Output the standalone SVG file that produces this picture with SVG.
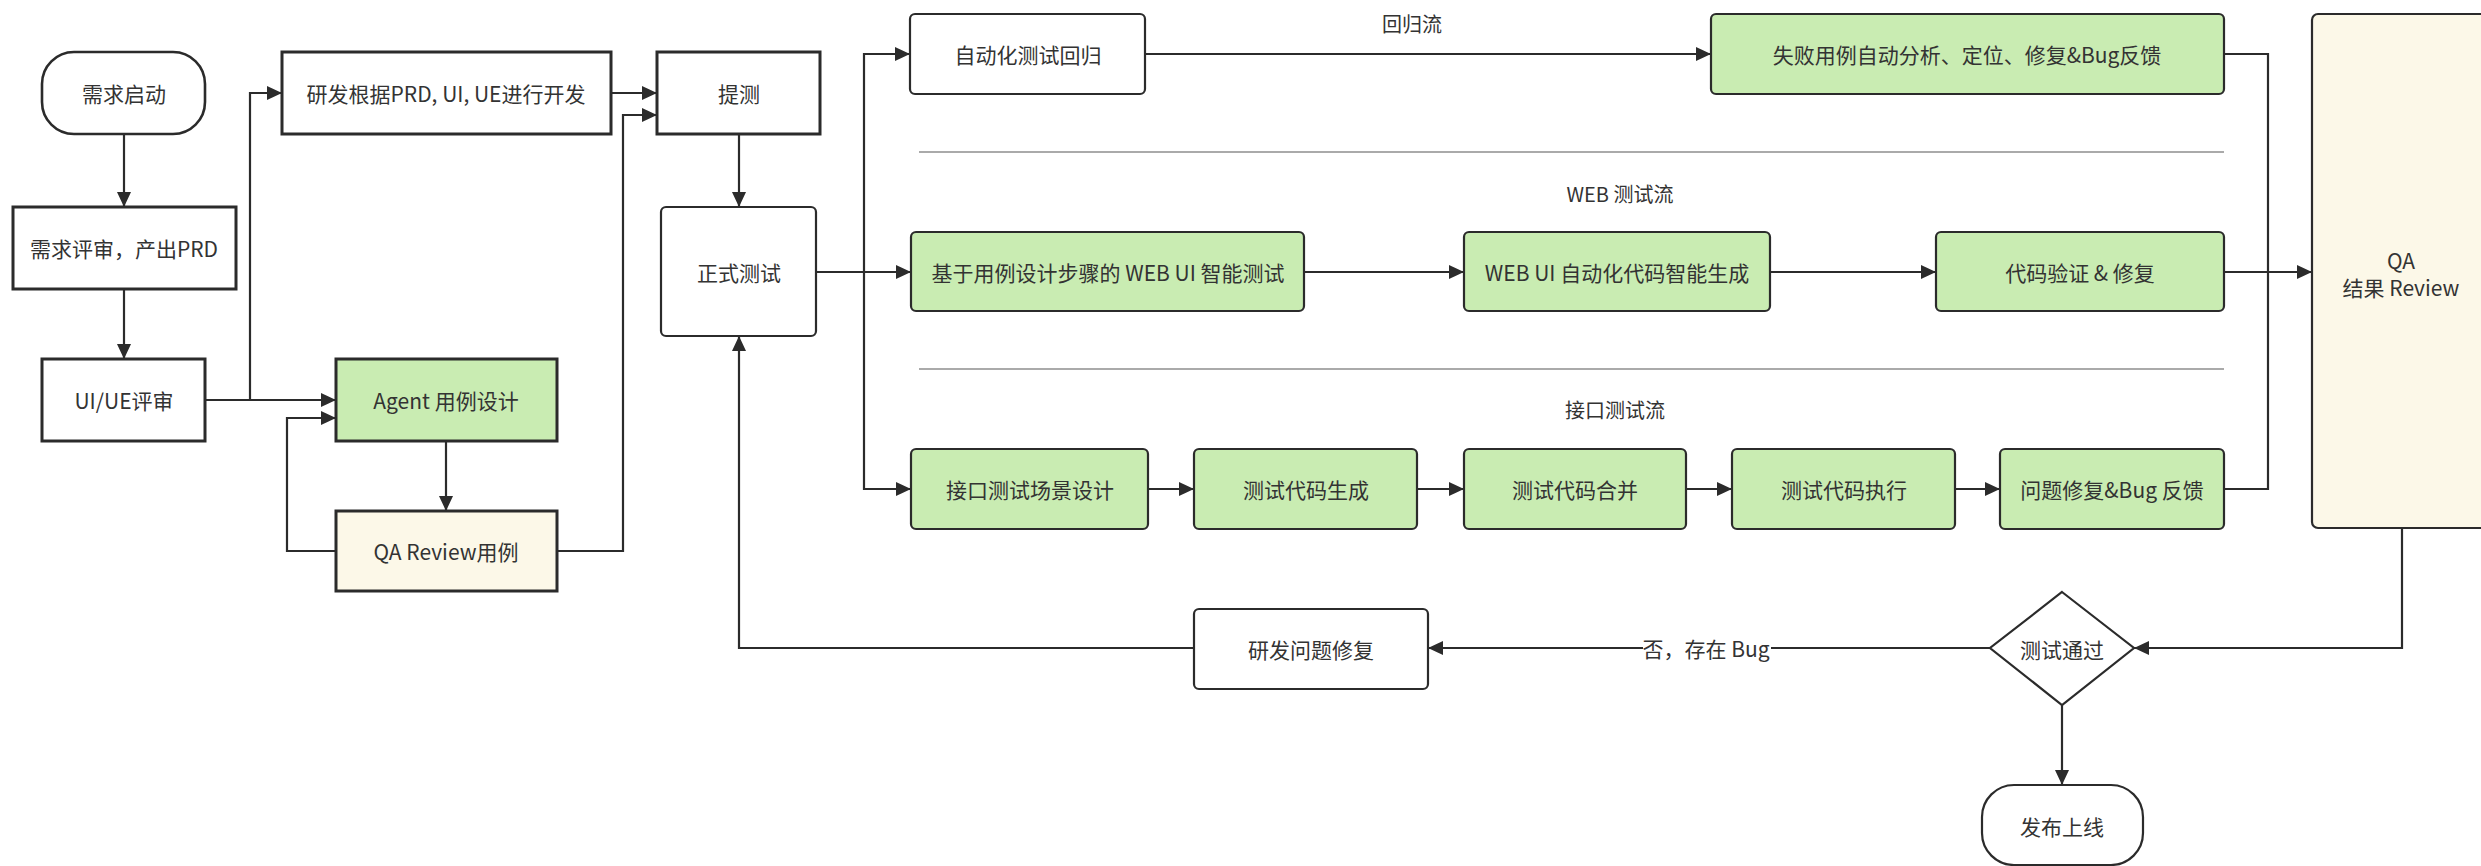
<svg xmlns="http://www.w3.org/2000/svg" width="2481" height="866" viewBox="0 0 2481 866">
<defs>
<marker id="arr" markerUnits="userSpaceOnUse" markerWidth="16" markerHeight="14" refX="15" refY="7" orient="auto">
<path d="M0,0 L15,7 L0,14 z" fill="#2b2b2b"/>
</marker>
<style>
text{font-family:"Noto Sans CJK SC","Noto Sans",sans-serif;font-size:21px;fill:#333;text-anchor:middle;dominant-baseline:central}
.sq{fill:#fff;stroke:#2b2b2b;stroke-width:3}
.rd{fill:#fff;stroke:#2b2b2b;stroke-width:2.2}
.g{fill:#c9ecb2}
.c{fill:#fcf8e8}
.conn path{fill:none;stroke:#2b2b2b;stroke-width:2.2}
.sep{stroke:#aaaaaa;stroke-width:2}
.lbl{font-size:20px}
</style>
</defs>
<rect width="2481" height="866" fill="#fff"/>

<g id="separators">
<line class="sep" x1="919" y1="152" x2="2224" y2="152"/>
<line class="sep" x1="919" y1="369" x2="2224" y2="369"/>
<text class="lbl" x="1412" y="23">回归流</text>
<text class="lbl" x="1620" y="193">WEB 测试流</text>
<text class="lbl" x="1615" y="409">接口测试流</text>
</g>

<g class="conn" id="connectors">
<path d="M124 134 V207" marker-end="url(#arr)"/>
<path d="M124 289 V359" marker-end="url(#arr)"/>
<path d="M205 400 H336" marker-end="url(#arr)"/>
<path d="M250 400 V93 H282" marker-end="url(#arr)"/>
<path d="M446 441 V511" marker-end="url(#arr)"/>
<path d="M336 551 H287 V418 H336" marker-end="url(#arr)"/>
<path d="M611 93 H657" marker-end="url(#arr)"/>
<path d="M557 551 H623 V115 H657" marker-end="url(#arr)"/>
<path d="M739 134 V207" marker-end="url(#arr)"/>
<path d="M816 272 H864 V54 H910" marker-end="url(#arr)"/>
<path d="M864 272 H911" marker-end="url(#arr)"/>
<path d="M864 272 V489 H911" marker-end="url(#arr)"/>
<path d="M1145 54 H1711" marker-end="url(#arr)"/>
<path d="M2224 54 H2268 V272"/>
<path d="M1304 272 H1464" marker-end="url(#arr)"/>
<path d="M1770 272 H1936" marker-end="url(#arr)"/>
<path d="M2224 272 H2312" marker-end="url(#arr)"/>
<path d="M1148 489 H1194" marker-end="url(#arr)"/>
<path d="M1417 489 H1464" marker-end="url(#arr)"/>
<path d="M1686 489 H1732" marker-end="url(#arr)"/>
<path d="M1955 489 H2000" marker-end="url(#arr)"/>
<path d="M2224 489 H2268 V272"/>
<path d="M2402 528 V648 H2134" marker-end="url(#arr)"/>
<path d="M1990 648 H1428" marker-end="url(#arr)"/>
<path d="M1194 648 H739 V336" marker-end="url(#arr)"/>
<path d="M2062 705 V785" marker-end="url(#arr)"/>
<rect x="1643" y="636" width="128" height="26" fill="#fff"/>
<text x="1706" y="648">否，存在 Bug</text>
</g>

<g id="n-start"><rect class="sq" x="42" y="52" width="163" height="82" rx="32" ry="32" style="stroke-width:2.6"/><text x="124" y="93">需求启动</text></g>
<g id="n-prd"><rect class="sq" x="13" y="207" width="223" height="82"/><text x="124" y="248">需求评审，产出PRD</text></g>
<g id="n-uiue"><rect class="sq" x="42" y="359" width="163" height="82"/><text x="124" y="400">UI/UE评审</text></g>
<g id="n-dev"><rect class="sq" x="282" y="52" width="329" height="82"/><text x="446" y="93">研发根据PRD, UI, UE进行开发</text></g>
<g id="n-submit"><rect class="sq" x="657" y="52" width="163" height="82"/><text x="739" y="93">提测</text></g>
<g id="n-agent"><rect class="sq g" x="336" y="359" width="221" height="82"/><text x="446" y="400">Agent 用例设计</text></g>
<g id="n-qacase"><rect class="sq c" x="336" y="511" width="221" height="80"/><text x="446" y="551">QA Review用例</text></g>
<g id="n-formal"><rect class="rd" x="661" y="207" width="155" height="129" rx="5"/><text x="739" y="272">正式测试</text></g>

<g id="n-auto"><rect class="rd" x="910" y="14" width="235" height="80" rx="5"/><text x="1028" y="54">自动化测试回归</text></g>
<g id="n-fail"><rect class="rd g" x="1711" y="14" width="513" height="80" rx="5"/><text x="1967" y="54">失败用例自动分析、定位、修复&amp;Bug反馈</text></g>

<g id="n-webui"><rect class="rd g" x="911" y="232" width="393" height="79" rx="5"/><text x="1108" y="272">基于用例设计步骤的 WEB UI 智能测试</text></g>
<g id="n-webgen"><rect class="rd g" x="1464" y="232" width="306" height="79" rx="5"/><text x="1617" y="272">WEB UI 自动化代码智能生成</text></g>
<g id="n-verify"><rect class="rd g" x="1936" y="232" width="288" height="79" rx="5"/><text x="2080" y="272">代码验证 &amp; 修复</text></g>

<g id="n-api1"><rect class="rd g" x="911" y="449" width="237" height="80" rx="5"/><text x="1030" y="489">接口测试场景设计</text></g>
<g id="n-api2"><rect class="rd g" x="1194" y="449" width="223" height="80" rx="5"/><text x="1306" y="489">测试代码生成</text></g>
<g id="n-api3"><rect class="rd g" x="1464" y="449" width="222" height="80" rx="5"/><text x="1575" y="489">测试代码合并</text></g>
<g id="n-api4"><rect class="rd g" x="1732" y="449" width="223" height="80" rx="5"/><text x="1844" y="489">测试代码执行</text></g>
<g id="n-api5"><rect class="rd g" x="2000" y="449" width="224" height="80" rx="5"/><text x="2112" y="489">问题修复&amp;Bug 反馈</text></g>

<g id="n-qa"><rect class="rd c" x="2312" y="14" width="220" height="514" rx="6"/><text x="2401" y="260">QA</text><text x="2401" y="287">结果 Review</text></g>
<g id="n-fix"><rect class="rd" x="1194" y="609" width="234" height="80" rx="5"/><text x="1311" y="649">研发问题修复</text></g>
<g id="n-pass"><polygon points="2062,592 2134,648 2062,705 1990,648" fill="#fff" stroke="#2b2b2b" stroke-width="2.2"/><text x="2062" y="649">测试通过</text></g>
<g id="n-release"><rect class="rd" x="1982" y="785" width="161" height="80" rx="32" ry="32"/><text x="2062" y="826">发布上线</text></g>
</svg>
